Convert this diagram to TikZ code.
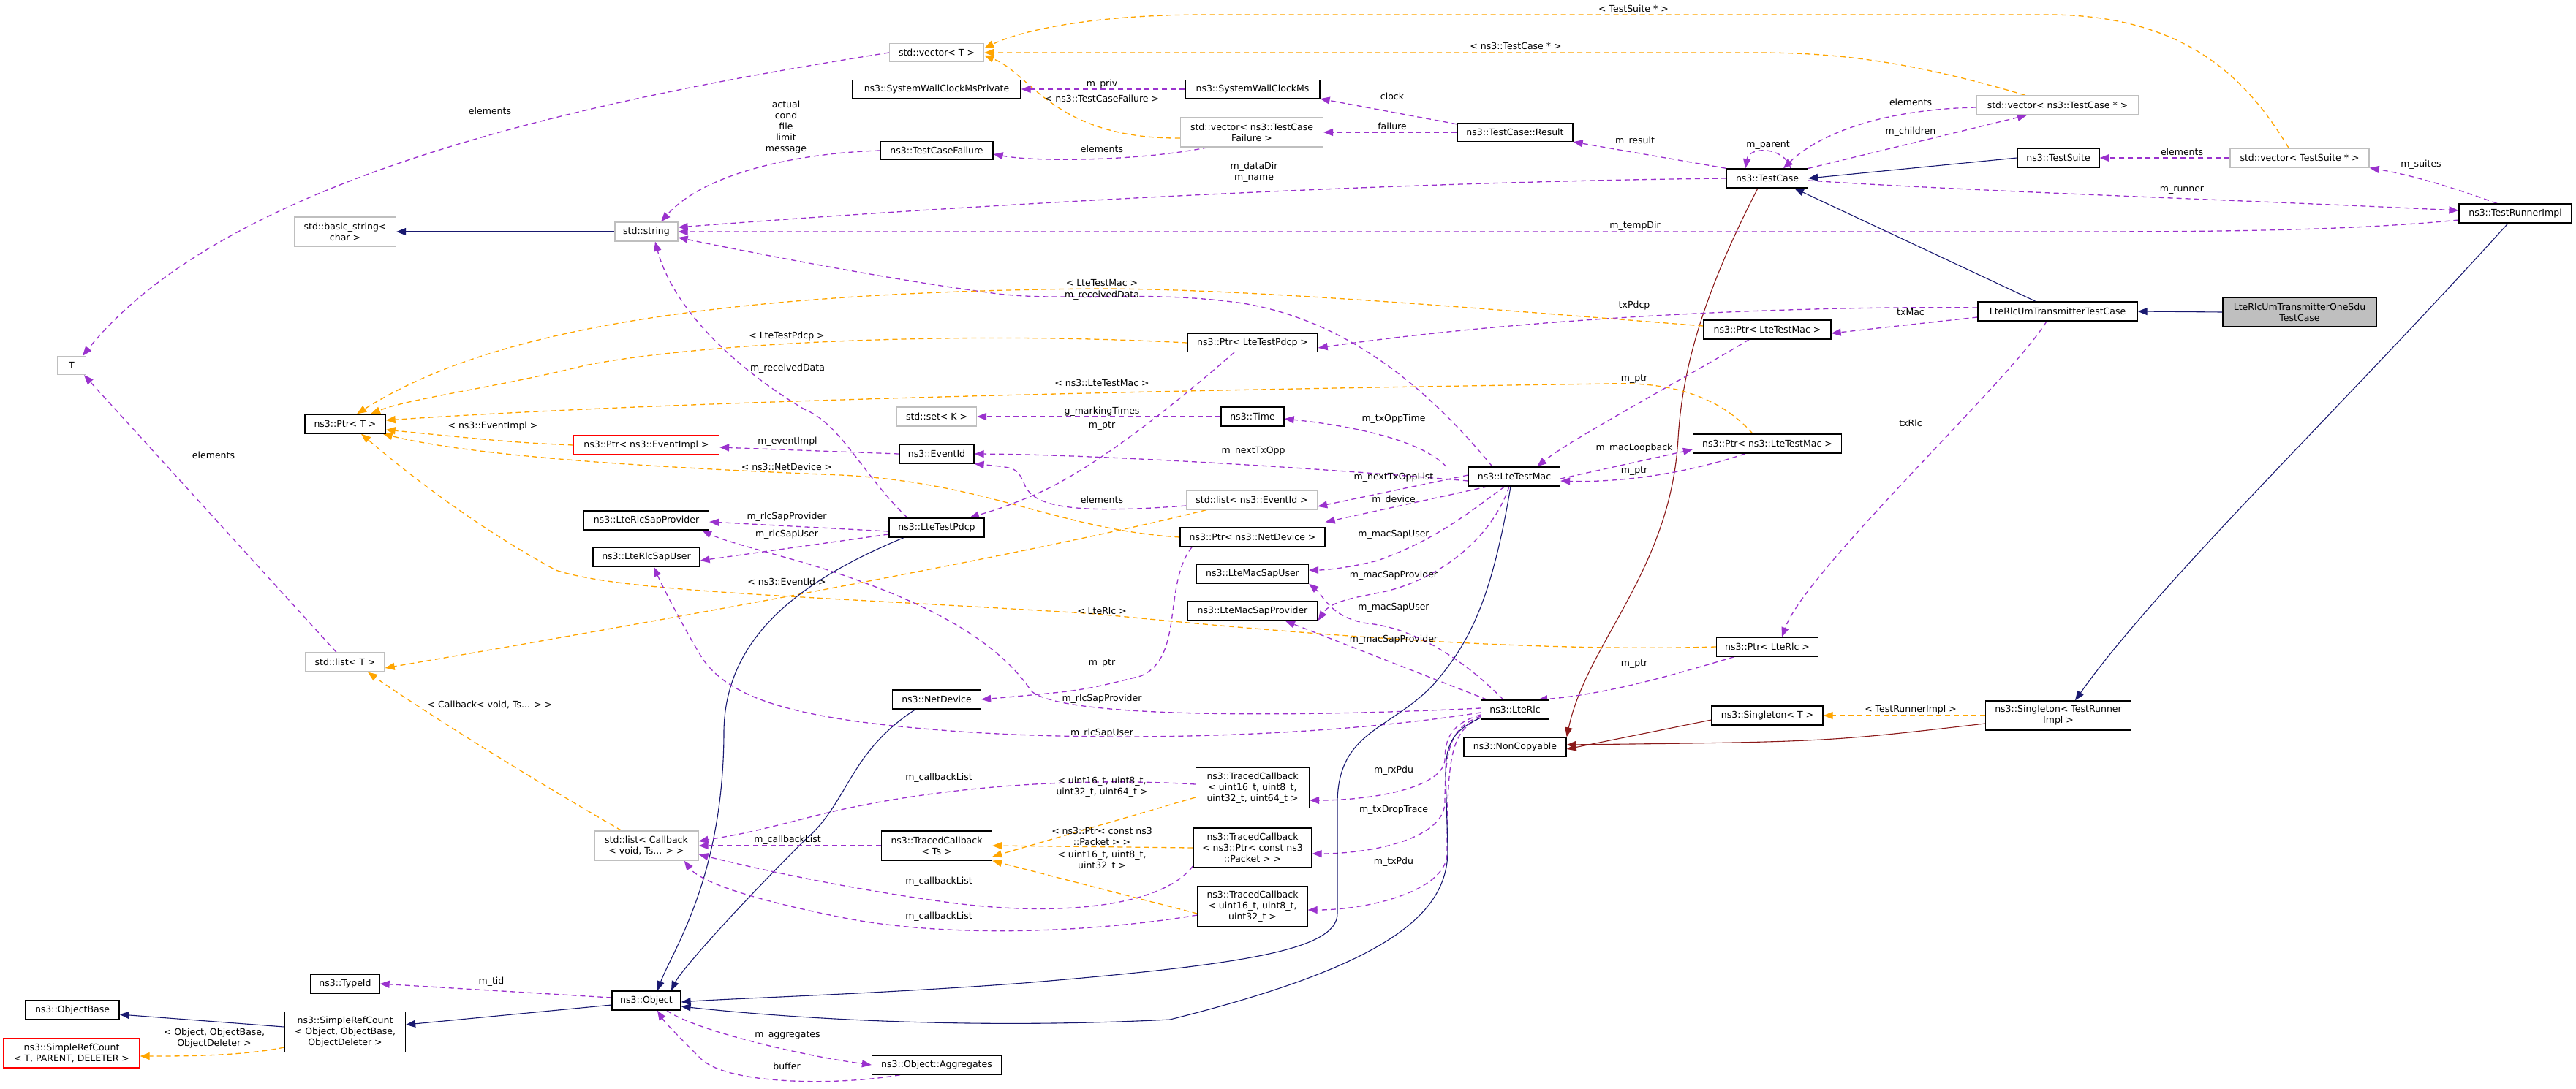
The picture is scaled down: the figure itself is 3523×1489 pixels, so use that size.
\documentclass[tikz,border=0pt]{standalone}
\usepackage{fontspec}
\setmainfont{DejaVu Sans}
\usetikzlibrary{arrows.meta}
\definecolor{pu}{HTML}{9A32CD}
\definecolor{og}{HTML}{FFA500}
\definecolor{nv}{HTML}{191970}
\definecolor{fb}{HTML}{8B1A1A}
\definecolor{gr}{HTML}{BFBFBF}
\pgfdeclarelayer{bg}
\pgfsetlayers{bg,main}
\newcommand\fs{\fontsize{12.5}{15}\selectfont}
\tikzset{
 box/.style={draw=black,line width=1.3pt,fill=white,inner sep=0pt,align=center,font=\fs},
 gbox/.style={box,draw=gr},
 rbox/.style={box,draw=red},
 fbox/.style={box,fill=gr},
 lb/.style={inner sep=0pt,align=center,font=\fs},
 edg/.style={line width=1.3pt,-{Triangle[length=13pt,width=10pt]}},
 pe/.style={edg,draw=pu,dash pattern=on 7pt off 5pt},
 oe/.style={edg,draw=og,dash pattern=on 7pt off 5pt},
 ne/.style={edg,draw=nv,line width=1.1pt},
 fe/.style={edg,draw=fb,line width=1.1pt},
}
\begin{document}
\begin{tikzpicture}[x=1pt,y=-1pt]
\path[use as bounding box] (0,0) rectangle (3523,1489);
% nodes
\node[gbox,minimum width=139pt,minimum height=40pt] (basicstr) at (472,317) {std::basic\_string<\\char >};
\node[gbox,minimum width=86pt,minimum height=26pt] (str) at (884,317) {std::string};
\node[gbox,minimum width=39pt,minimum height=25pt] (T) at (98,500) {T};
\node[gbox,minimum width=129pt,minimum height=25pt] (vecT) at (1281,72) {std::vector< T >};
\node[box,minimum width=230pt,minimum height=25pt] (swcmp) at (1281,122) {ns3::SystemWallClockMsPrivate};
\node[box,minimum width=184pt,minimum height=25pt] (swcm) at (1713,122) {ns3::SystemWallClockMs};
\node[gbox,minimum width=195pt,minimum height=40pt] (vecTCF) at (1712,181) {std::vector< ns3::TestCase\\Failure >};
\node[box,minimum width=154pt,minimum height=25pt] (tcf) at (1281,206) {ns3::TestCaseFailure};
\node[box,minimum width=178pt,minimum height=25pt] (ptrpdcp) at (1713,469) {ns3::Ptr< LteTestPdcp >};
\node[gbox,minimum width=222pt,minimum height=26pt] (vecTC) at (2814,144) {std::vector< ns3::TestCase * >};
\node[box,minimum width=158pt,minimum height=25pt] (result) at (2072,181) {ns3::TestCase::Result};
\node[box,minimum width=111pt,minimum height=26pt] (tc) at (2417,244) {ns3::TestCase};
\node[box,minimum width=112pt,minimum height=26pt] (ts) at (2815,216) {ns3::TestSuite};
\node[box,minimum width=218pt,minimum height=26pt] (umtc) at (2814,426) {LteRlcUmTransmitterTestCase};
\node[box,minimum width=174pt,minimum height=26pt] (ptrmac) at (2417,451) {ns3::Ptr< LteTestMac >};
\node[gbox,minimum width=190pt,minimum height=26pt] (vecTS) at (3145,216) {std::vector< TestSuite * >};
\node[box,minimum width=154pt,minimum height=26pt] (tri) at (3440,292) {ns3::TestRunnerImpl};
\node[fbox,minimum width=210pt,minimum height=40pt] (onesdu) at (3145,427) {LteRlcUmTransmitterOneSdu\\TestCase};
\node[box,minimum width=110pt,minimum height=26pt] (ptrT) at (472,580) {ns3::Ptr< T >};
\node[rbox,minimum width=199pt,minimum height=26pt] (ptrev) at (884,609) {ns3::Ptr< ns3::EventImpl >};
\node[box,minimum width=171pt,minimum height=26pt] (rlcsp) at (884,712) {ns3::LteRlcSapProvider};
\node[box,minimum width=146pt,minimum height=26pt] (rlcsu) at (884,762) {ns3::LteRlcSapUser};
\node[gbox,minimum width=108pt,minimum height=26pt] (listT) at (472,906) {std::list< T >};
\node[gbox,minimum width=109pt,minimum height=26pt] (setK) at (1281,570) {std::set< K >};
\node[box,minimum width=86pt,minimum height=26pt] (time) at (1713,570) {ns3::Time};
\node[box,minimum width=102pt,minimum height=26pt] (evid) at (1281,621) {ns3::EventId};
\node[gbox,minimum width=179pt,minimum height=26pt] (listev) at (1712,684) {std::list< ns3::EventId >};
\node[box,minimum width=130pt,minimum height=26pt] (pdcp) at (1281,722) {ns3::LteTestPdcp};
\node[box,minimum width=198pt,minimum height=26pt] (ptrnd) at (1713,735) {ns3::Ptr< ns3::NetDevice >};
\node[box,minimum width=153pt,minimum height=26pt] (macsu) at (1713,785) {ns3::LteMacSapUser};
\node[box,minimum width=178pt,minimum height=26pt] (macsp) at (1713,836) {ns3::LteMacSapProvider};
\node[box,minimum width=121pt,minimum height=26pt] (nd) at (1281,957) {ns3::NetDevice};
\node[box,minimum width=155pt,minimum height=55pt] (tc64) at (1713,1078) {ns3::TracedCallback\\< uint16\_t, uint8\_t,\\uint32\_t, uint64\_t >};
\node[box,minimum width=151pt,minimum height=40pt] (tcTs) at (1281,1157) {ns3::TracedCallback\\< Ts >};
\node[box,minimum width=162pt,minimum height=54pt] (tcptr) at (1713,1160) {ns3::TracedCallback\\< ns3::Ptr< const ns3\\::Packet > >};
\node[box,minimum width=150pt,minimum height=55pt] (tc32) at (1713,1240) {ns3::TracedCallback\\< uint16\_t, uint8\_t,\\uint32\_t >};
\node[box,minimum width=177pt,minimum height=26pt] (agg) at (1281,1457) {ns3::Object::Aggregates};
\node[gbox,minimum width=142pt,minimum height=40pt] (listcb) at (884,1157) {std::list< Callback\\< void, Ts... > >};
\node[box,minimum width=94pt,minimum height=26pt] (typeid) at (472,1346) {ns3::TypeId};
\node[box,minimum width=128pt,minimum height=26pt] (objbase) at (99,1382) {ns3::ObjectBase};
\node[box,minimum width=165pt,minimum height=55pt] (src) at (472,1412) {ns3::SimpleRefCount\\< Object, ObjectBase,\\ObjectDeleter >};
\node[rbox,minimum width=186pt,minimum height=40pt] (srcT) at (98,1441) {ns3::SimpleRefCount\\< T, PARENT, DELETER >};
\node[box,minimum width=94pt,minimum height=26pt] (obj) at (884,1369) {ns3::Object};
\node[box,minimum width=125pt,minimum height=26pt] (mac) at (2071,652) {ns3::LteTestMac};
\node[box,minimum width=203pt,minimum height=26pt] (ptrnsmac) at (2417,607) {ns3::Ptr< ns3::LteTestMac >};
\node[box,minimum width=139pt,minimum height=26pt] (ptrrlc) at (2417,885) {ns3::Ptr< LteRlc >};
\node[box,minimum width=93pt,minimum height=26pt] (rlc) at (2072,971) {ns3::LteRlc};
\node[box,minimum width=140pt,minimum height=26pt] (nc) at (2072,1022) {ns3::NonCopyable};
\node[box,minimum width=152pt,minimum height=26pt] (sgT) at (2417,979) {ns3::Singleton< T >};
\node[box,minimum width=199pt,minimum height=40pt] (sgTR) at (2815,979) {ns3::Singleton< TestRunner\\Impl >};
% edges
\begin{pgfonlayer}{bg}
\draw[ne] (str.west) -- (basicstr.east);
\draw[pe] (vecT.west) .. controls (850,130) and (320,230) .. ([xshift=15]T.north);
\draw[oe] ([yshift=-8]vecTCF.west) .. controls (1440,190) and (1410,100) .. ([yshift=-4]vecT.east);
\draw[oe] ([xshift=-44]vecTC.north) .. controls (2600,80) and (2500,72) .. (2400,72) -- (vecT.east);
\draw[oe] ([xshift=-15]vecTS.north) .. controls (3080,120) and (3000,20) .. (2800,20) -- (1650,20) .. controls (1500,20) and (1400,40) .. ([yshift=6]vecT.east);
\draw[pe] (swcm.west) -- (swcmp.east);
\draw[pe] ([yshift=-2]result.north west) -- (swcm.south east);
\draw[pe] (result.west) -- (vecTCF.east);
\draw[pe] ([xshift=-60]vecTCF.south) .. controls (1560,220) and (1420,222) .. ([yshift=-5]tcf.east);
\draw[pe] (tcf.west) .. controls (1080,210) and (960,240) .. ([xshift=20]str.north);
\draw[pe] (tc.west) .. controls (1800,250) and (1200,290) .. ([yshift=6]str.east);
\draw[pe] ([yshift=-9]tri.west) .. controls (3200,317) and (3000,317) .. (2800,317) -- (str.east);
\draw[pe] ([xshift=-30]mac.north) .. controls (1960,540) and (1850,440) .. (1700,415) .. controls (1560,395) and (1450,415) .. (1350,400) .. controls (1200,380) and (1000,340) .. ([yshift=-8]str.east);
\draw[pe] ([xshift=-40]pdcp.north) .. controls (1180,650) and (1150,580) .. (1100,560) .. controls (1000,500) and (920,420) .. ([xshift=12]str.south);
\draw[pe] (tc.north west) -- (result.south east);
\draw[pe] ([xshift=32]tc.north) .. controls (2440,200) and (2392,200) .. ([xshift=-30]tc.north);
\draw[pe] (tc.north east) -- ([xshift=-42]vecTC.south);
\draw[pe] ([yshift=-3]vecTC.west) .. controls (2560,150) and (2480,190) .. ([xshift=22]tc.north);
\draw[ne] (ts.west) -- (tc.east);
\draw[pe] (vecTS.west) -- (ts.east);
\draw[pe] ([yshift=-3]tc.east) .. controls (2700,262) and (3100,275) .. ([yshift=4]tri.west);
\draw[pe] ([xshift=-25]tri.north) .. controls (3350,255) and (3300,240) .. (vecTS.south east);
\draw[ne] ([xshift=-30]umtc.north) -- ([xshift=37]tc.south);
\draw[ne] (onesdu.west) -- (umtc.east);
\draw[ne] ([xshift=-10]tri.south) .. controls (3200,560) and (2950,800) .. ([xshift=23]sgTR.north);
\draw[fe] ([xshift=-13]tc.south) .. controls (2320,420) and (2300,520) .. (2295,600) .. controls (2285,780) and (2170,880) .. (nc.north east);
\draw[fe] ([yshift=-6]sgT.west) -- ([yshift=-3]nc.east);
\draw[fe] ([yshift=-11]sgTR.west) .. controls (2500,1015) .. ([yshift=3]nc.east);
\draw[oe] (sgTR.west) -- (sgT.east);
\draw[pe] ([yshift=5]umtc.west) .. controls (2400,418) and (2050,440) .. ([yshift=-7]ptrpdcp.east);
\draw[pe] ([yshift=-8]umtc.west) -- ([yshift=-5]ptrmac.east);
\draw[pe] ([xshift=-15]umtc.south) .. controls (2750,520) and (2470,780) .. ([xshift=20]ptrrlc.north);
\draw[oe] ([yshift=5]ptrmac.west) .. controls (2000,420) and (1700,395) .. (1500,395) .. controls (900,400) and (640,470) .. ([xshift=16]ptrT.north);
\draw[oe] (ptrpdcp.west) .. controls (1300,452) and (950,470) .. (800,500) .. controls (680,530) and (560,545) .. ([xshift=35]ptrT.north);
\draw[oe] ([xshift=-20]ptrnsmac.north) .. controls (2350,540) and (2280,522) .. (2200,525) .. controls (1500,535) and (900,550) .. ([yshift=5]ptrT.east);
\draw[oe] (ptrev.west) .. controls (700,605) .. ([yshift=-8]ptrT.east);
\draw[oe] (ptrnd.west) .. controls (1450,725) and (1350,660) .. (1150,650) .. controls (900,640) and (650,625) .. ([xshift=-4]ptrT.south east);
\draw[oe] (ptrrlc.west) .. controls (2100,892) and (1800,870) .. (1500,840) .. controls (1100,815) and (850,810) .. (760,780) .. controls (650,720) and (560,650) .. ([xshift=22]ptrT.south);
\draw[oe] ([xshift=-62]listev.south) .. controls (1400,760) and (900,850) .. ([yshift=-8]listT.east);
\draw[oe] ([xshift=-34]listcb.north) .. controls (700,1050) and (560,960) .. ([xshift=31]listT.south);
\draw[pe] ([xshift=-12]listT.north) -- ([xshift=17]T.south);
\draw[pe] (evid.west) -- ([yshift=-3]ptrev.east);
\draw[pe] ([yshift=-8]listev.west) .. controls (1450,705) and (1410,690) .. (1400,660) .. controls (1390,640) .. (evid.south east);
\draw[pe] ([yshift=-6]mac.west) .. controls (1800,640) and (1500,622) .. (evid.east);
\draw[pe] ([yshift=2]mac.west) -- ([yshift=-9]listev.east);
\draw[pe] ([xshift=-30]mac.north west) .. controls (1945,603) and (1853,583) .. ([yshift=-3]time.east);
\draw[pe] (time.west) -- (setK.east);
\draw[pe] ([xshift=-36]mac.south) -- ([yshift=7]ptrnd.north east);
\draw[pe] ([xshift=-13]mac.south) .. controls (2014,697) and (1968,737) .. (1884,767) .. controls (1840,778) and (1810,780) .. ([yshift=5]macsu.east);
\draw[pe] ([xshift=-7]mac.south) .. controls (2040,737) and (1968,793) .. (1891,810) .. controls (1850,818) and (1820,823) .. ([yshift=-13]macsp.east);
\draw[pe] ([yshift=-3]mac.east) -- ([yshift=-8]ptrnsmac.west);
\draw[pe] ([xshift=-30]ptrnsmac.south) .. controls (2291,653) and (2200,660) .. ([yshift=-6]mac.east);
\draw[pe] ([xshift=-25]ptrmac.south) .. controls (2300,520) and (2150,600) .. ([xshift=31]mac.north);
\draw[pe] ([xshift=-25]ptrpdcp.south) .. controls (1610,550) and (1500,640) .. (1415,677) .. controls (1370,695) .. ([xshift=45]pdcp.north);
\draw[pe] ([yshift=-5]pdcp.west) -- ([yshift=-2]rlcsp.east);
\draw[pe] ([yshift=-9]pdcp.west) -- ([yshift=-5]rlcsu.east);
\draw[ne] ([xshift=-45]pdcp.south) .. controls (1080,800) and (992,880) .. (990,1000) .. controls (990,1200) and (920,1300) .. ([xshift=15]obj.north);
\draw[pe] ([xshift=-83]ptrnd.south) .. controls (1590,800) and (1620,900) .. (1560,925) .. controls (1480,945) .. (nd.east);
\draw[ne] ([xshift=-29]nd.south) .. controls (1160,1030) and (1160,1100) .. (1100,1150) .. controls (1000,1250) and (930,1330) .. ([xshift=34]obj.north);
\draw[pe] ([xshift=-16]rlc.north) .. controls (2000,900) and (1930,858) .. (1870,853) .. controls (1820,845) and (1810,815) .. (macsu.south east);
\draw[pe] ([xshift=-38]rlc.north) -- ([xshift=45]macsp.south);
\draw[pe] ([yshift=2]rlc.west) .. controls (1800,980) and (1450,985) .. (1410,945) .. controls (1360,870) and (1250,815) .. (1100,770) .. controls (1030,750) and (990,740) .. ([xshift=-10]rlcsp.south east);
\draw[pe] ([yshift=-4]rlc.west) .. controls (1800,1010) and (1500,1015) .. (1300,1000) .. controls (1100,985) and (1000,960) .. (960,900) .. controls (930,850) and (905,800) .. ([xshift=10]rlcsu.south);
\draw[pe] ([xshift=-45]ptrrlc.south) .. controls (2300,920) and (2200,950) .. ([xshift=-16]rlc.north east);
\draw[pe] ([yshift=-7]rlc.west) .. controls (1985,990) and (1976,1010) .. (1976,1040) .. controls (1972,1080) and (1870,1095) .. ([yshift=-17]tc64.east);
\draw[pe] ([yshift=-9]rlc.west) .. controls (1985,995) and (1976,1020) .. (1976,1100) .. controls (1972,1150) and (1870,1168) .. ([yshift=-8]tcptr.east);
\draw[pe] ([yshift=-11]rlc.west) .. controls (1985,1000) and (1979,1030) .. (1979,1170) .. controls (1975,1220) and (1870,1245) .. ([yshift=-5]tc32.east);
\draw[ne] ([xshift=-5]mac.south) .. controls (2040,820) and (2010,880) .. (1960,937) .. controls (1900,1000) and (1829,1000) .. (1829,1100) -- (1829,1250) .. controls (1829,1300) and (1700,1320) .. (1400,1345) .. controls (1200,1360) and (1000,1366) .. ([yshift=-2]obj.east);
\draw[ne] ([yshift=-11]rlc.west) .. controls (1985,1000) and (1977,1020) .. (1977,1060) -- (1980,1160) .. controls (1982,1250) and (1900,1320) .. (1600,1395) .. controls (1300,1410) and (1050,1390) .. ([yshift=-8]obj.east);
\draw[pe] (tcTs.west) -- (listcb.east);
\draw[pe] ([yshift=5]tc64.west) .. controls (1450,1062) and (1250,1080) .. (1100,1120) .. controls (1020,1140) .. ([yshift=6]listcb.east);
\draw[pe] ([yshift=-25]tcptr.west) .. controls (1590,1240) and (1450,1255) .. (1300,1235) .. controls (1150,1215) and (1020,1185) .. ([yshift=-12]listcb.east);
\draw[pe] ([yshift=-12]tc32.west) .. controls (1500,1275) and (1300,1285) .. (1150,1255) .. controls (1050,1235) and (960,1210) .. ([xshift=-20]listcb.south east);
\draw[oe] ([yshift=-13]tc64.west) -- ([yshift=-15]tcTs.east);
\draw[oe] (tcptr.west) -- (tcTs.east);
\draw[oe] ([yshift=-10]tc32.west) -- (tcTs.south east);
\draw[pe] ([yshift=4]obj.west) -- (typeid.east);
\draw[ne] ([yshift=-6]obj.west) -- ([yshift=10]src.east);
\draw[ne] ([yshift=7]src.west) -- ([yshift=-6]objbase.east);
\draw[oe] ([yshift=-21]src.west) .. controls (330,1445) and (250,1445) .. ([yshift=-4]srcT.east);
\draw[pe] ([xshift=28]obj.south) .. controls (950,1410) and (1100,1445) .. (agg.west);
\draw[pe] ([xshift=-50]agg.south) .. controls (1150,1485) and (1000,1485) .. (960,1450) .. controls (930,1420) and (910,1400) .. ([xshift=15]obj.south);
\end{pgfonlayer}
% labels
\node[lb] (l01) at (670,152) {elements};
\node[lb] (l02) at (1507,135) {< ns3::TestCaseFailure >};
\node[lb] (l03) at (2073,63) {< ns3::TestCase * >};
\node[lb] (l04) at (2234,12) {< TestSuite * >};
\node[lb] (l05) at (1507,115) {m\_priv};
\node[lb] (l06) at (1904,132) {clock};
\node[lb] (l07) at (1904,173) {failure};
\node[lb] (l08) at (1507,204) {elements};
\node[lb] (l09) at (1075,174) {actual\\cond\\file\\limit\\message};
\node[lb] (l10) at (1715,236) {m\_dataDir\\m\_name};
\node[lb] (l11) at (2236,309) {m\_tempDir};
\node[lb] (l12) at (1507,404) {m\_receivedData};
\node[lb] (l13) at (1077,504) {m\_receivedData};
\node[lb] (l14) at (2236,193) {m\_result};
\node[lb] (l15) at (2418,199) {m\_parent};
\node[lb] (l16) at (2613,180) {m\_children};
\node[lb] (l17) at (2613,140) {elements};
\node[lb] (l18) at (2984,208) {elements};
\node[lb] (l19) at (2984,260) {m\_runner};
\node[lb] (l20) at (3311,225) {m\_suites};
\node[lb] (l21) at (2613,971) {< TestRunnerImpl >};
\node[lb] (l22) at (2235,418) {txPdcp};
\node[lb] (l23) at (2613,427) {txMac};
\node[lb] (l24) at (2613,579) {txRlc};
\node[lb] (l25) at (1507,387) {< LteTestMac >};
\node[lb] (l26) at (1076,460) {< LteTestPdcp >};
\node[lb] (l27) at (1507,524) {< ns3::LteTestMac >};
\node[lb] (l28) at (674,583) {< ns3::EventImpl >};
\node[lb] (l29) at (1076,639) {< ns3::NetDevice >};
\node[lb] (l30) at (1507,836) {< LteRlc >};
\node[lb] (l31) at (1076,796) {< ns3::EventId >};
\node[lb] (l32) at (670,964) {< Callback< void, Ts... > >};
\node[lb] (l33) at (292,623) {elements};
\node[lb] (l34) at (1077,604) {m\_eventImpl};
\node[lb] (l35) at (1507,684) {elements};
\node[lb] (l36) at (1714,617) {m\_nextTxOpp};
\node[lb] (l37) at (1906,653) {m\_nextTxOppList};
\node[lb] (l38) at (1906,573) {m\_txOppTime};
\node[lb] (l39) at (1507,563) {g\_markingTimes};
\node[lb] (l40) at (1906,684) {m\_device};
\node[lb] (l41) at (1906,731) {m\_macSapUser};
\node[lb] (l42) at (1906,787) {m\_macSapProvider};
\node[lb] (l43) at (2235,613) {m\_macLoopback};
\node[lb] (l44) at (2235,645) {m\_ptr};
\node[lb] (l45) at (2235,519) {m\_ptr};
\node[lb] (l46) at (1507,583) {m\_ptr};
\node[lb] (l47) at (1076,707) {m\_rlcSapProvider};
\node[lb] (l48) at (1076,731) {m\_rlcSapUser};
\node[lb] (l49) at (1507,908) {m\_ptr};
\node[lb] (l50) at (1906,831) {m\_macSapUser};
\node[lb] (l51) at (1906,875) {m\_macSapProvider};
\node[lb] (l52) at (1507,956) {m\_rlcSapProvider};
\node[lb] (l53) at (1507,1003) {m\_rlcSapUser};
\node[lb] (l54) at (2235,909) {m\_ptr};
\node[lb] (l55) at (1906,1054) {m\_rxPdu};
\node[lb] (l56) at (1906,1108) {m\_txDropTrace};
\node[lb] (l57) at (1906,1179) {m\_txPdu};
\node[lb] (l58) at (1077,1149) {m\_callbackList};
\node[lb] (l59) at (1284,1064) {m\_callbackList};
\node[lb] (l60) at (1284,1206) {m\_callbackList};
\node[lb] (l61) at (1284,1254) {m\_callbackList};
\node[lb] (l62) at (1507,1077) {< uint16\_t, uint8\_t,\\uint32\_t, uint64\_t >};
\node[lb] (l63) at (1507,1144) {< ns3::Ptr< const ns3\\::Packet > >};
\node[lb] (l64) at (1507,1178) {< uint16\_t, uint8\_t,\\uint32\_t >};
\node[lb] (l65) at (672,1343) {m\_tid};
\node[lb] (l66) at (293,1421) {< Object, ObjectBase,\\ObjectDeleter >};
\node[lb] (l67) at (1077,1417) {m\_aggregates};
\node[lb] (l68) at (1076,1459) {buffer};
\end{tikzpicture}
\end{document}
